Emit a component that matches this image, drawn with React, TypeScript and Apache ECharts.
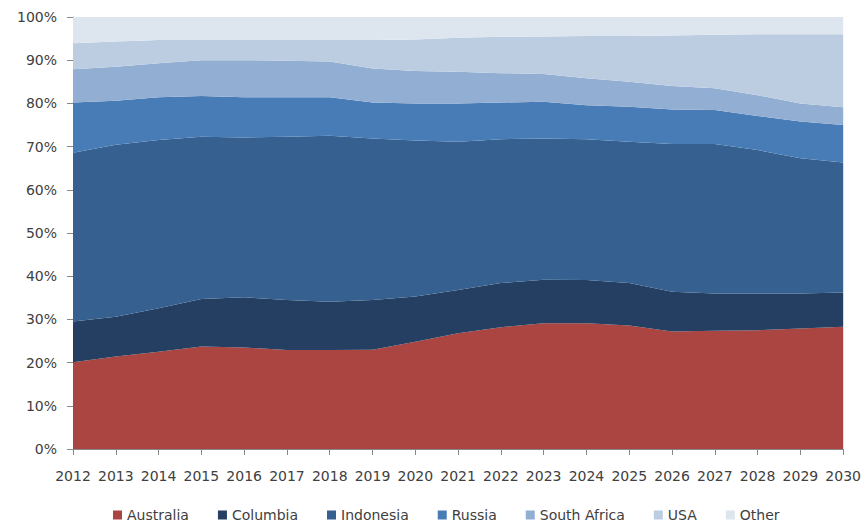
import React, { useEffect, useRef } from "react";
import * as echarts from "echarts";

// Years on the x axis
const years = [
  "2012", "2013", "2014", "2015", "2016", "2017", "2018", "2019", "2020",
  "2021", "2022", "2023", "2024", "2025", "2026", "2027", "2028", "2029", "2030",
];

// Share of total (%) per country, stacked bottom to top
const australia = [20.1, 21.4, 22.5, 23.7, 23.5, 22.9, 22.9, 23.0, 24.8, 26.8, 28.2, 29.1, 29.1, 28.6, 27.2, 27.4, 27.5, 27.9, 28.3];
const columbia = [9.4, 9.2, 10.1, 11.0, 11.6, 11.6, 11.2, 11.5, 10.5, 10.0, 10.2, 10.1, 10.0, 9.8, 9.2, 8.6, 8.5, 8.1, 7.9];
const indonesia = [39.1, 39.8, 38.9, 37.6, 37.0, 37.8, 38.4, 37.4, 36.1, 34.3, 33.3, 32.7, 32.6, 32.7, 34.2, 34.6, 33.2, 31.3, 30.1];
const russia = [11.6, 10.2, 9.9, 9.4, 9.3, 9.1, 8.9, 8.3, 8.6, 8.9, 8.5, 8.5, 7.9, 8.1, 8.0, 7.9, 7.9, 8.5, 8.7];
const southAfrica = [7.7, 7.9, 7.9, 8.3, 8.6, 8.5, 8.3, 7.9, 7.5, 7.3, 6.8, 6.4, 6.2, 5.8, 5.4, 5.0, 4.8, 4.2, 4.1];
const usa = [6.0, 5.8, 5.4, 4.7, 4.7, 4.8, 5.0, 6.6, 7.3, 7.9, 8.4, 8.7, 9.8, 10.6, 11.7, 12.4, 14.1, 16.0, 16.9];
const other = [6.1, 5.7, 5.3, 5.3, 5.3, 5.3, 5.3, 5.3, 5.2, 4.8, 4.6, 4.5, 4.4, 4.4, 4.3, 4.1, 4.0, 4.0, 4.0];

const seriesNames = ["Australia", "Columbia", "Indonesia", "Russia", "South Africa", "USA", "Other"];
const seriesData = [australia, columbia, indonesia, russia, southAfrica, usa, other];
const seriesColors = ["#AA4542", "#243F61", "#35608F", "#487CB7", "#93AED3", "#BCCDE2", "#DDE5EF"];

const FONT = "'DejaVu Sans', sans-serif";
const TEXT = "#404040";

export default function App() {
  const ref = useRef<HTMLDivElement>(null);

  useEffect(() => {
    if (!ref.current) return;
    const chart = echarts.init(ref.current, null, { renderer: "svg" });
    chart.setOption({
      animation: false,
      backgroundColor: "#ffffff",
      textStyle: { fontFamily: FONT },
      grid: { left: 73, right: 19, top: 17, bottom: 77, containLabel: false },
      legend: {
        data: seriesNames,
        left: 113,
        top: 507,
        padding: 0,
        icon: "rect",
        itemWidth: 9,
        itemHeight: 9,
        itemGap: 29,
        textStyle: { fontSize: 14, lineHeight: 16, color: TEXT, fontFamily: FONT },
      },
      xAxis: {
        type: "category",
        data: years,
        boundaryGap: false,
        axisLine: { lineStyle: { color: "#888888" } },
        axisTick: { show: true, length: 6, alignWithLabel: true, lineStyle: { color: "#888888" } },
        axisLabel: { interval: 0, fontSize: 14, color: TEXT, margin: 20, fontFamily: FONT },
        splitLine: { show: false },
      },
      yAxis: {
        type: "value",
        min: 0,
        max: 100,
        interval: 10,
        axisLine: { show: true, lineStyle: { color: "#888888" } },
        axisTick: { show: true, length: 6, lineStyle: { color: "#888888" } },
        axisLabel: { formatter: "{value}%", fontSize: 14, color: TEXT, margin: 16, fontFamily: FONT },
        splitLine: { show: false },
      },
      series: seriesNames.map((name, i) => ({
        name,
        type: "line",
        stack: "total",
        data: seriesData[i],
        symbol: "none",
        lineStyle: { width: 0 },
        areaStyle: { color: seriesColors[i], opacity: 1 },
        itemStyle: { color: seriesColors[i] },
      })),
    });
    return () => chart.dispose();
  }, []);

  return (
    <div
      ref={ref}
      style={{ position: "fixed", left: 0, top: 0, width: 864, height: 526 }}
    />
  );
}
